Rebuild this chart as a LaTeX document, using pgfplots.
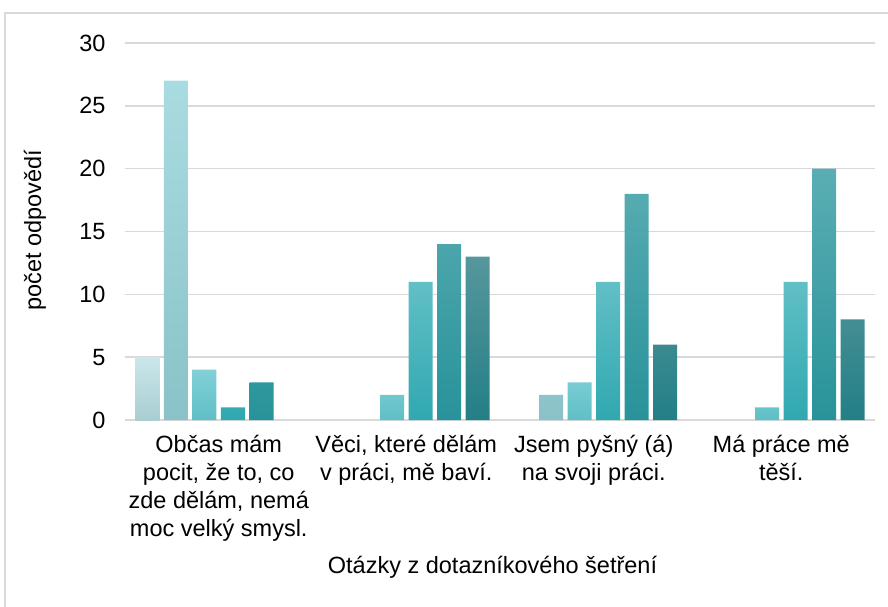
\documentclass[border=0pt]{standalone}
\usepackage{fontspec}
\setmainfont{Liberation Sans}
\usepackage{pgfplots}
\pgfplotsset{compat=1.18}
\definecolor{gridc}{HTML}{D9D9D9}
\definecolor{sAt}{HTML}{CBE7EB}\definecolor{sAb}{HTML}{A9CDD1}
\definecolor{sBt}{HTML}{A9DCE1}\definecolor{sBb}{HTML}{89C2C8}
\definecolor{sCt}{HTML}{82D0D6}\definecolor{sCb}{HTML}{5EC0C6}
\definecolor{sDt}{HTML}{62BFC6}\definecolor{sDm}{HTML}{3CB9C2}\definecolor{sDb}{HTML}{30A8B0}
\definecolor{sEt}{HTML}{5AAEB3}\definecolor{sEb}{HTML}{28929A}
\definecolor{sFt}{HTML}{56979C}\definecolor{sFb}{HTML}{237F86}
\begin{document}
\begin{tikzpicture}[x=1pt,y=1pt]
\useasboundingbox (-125,-186) rectangle (763,420);
\draw[gridc, line width=1.5pt] (-120,-190) -- (-120,407) -- (770,407);
\begin{axis}[
  at={(0,0)}, anchor=south west,
  scale only axis, width=750pt, height=377pt,
  xmin=-0.5, xmax=3.5, ymin=0, ymax=30,
  ybar=4.5pt, bar width=24pt,
  xtick={0,1,2,3},
  xticklabels={{Občas mám\\pocit, že to, co\\zde dělám, nemá\\moc velký smysl.},
               {Věci, které dělám\\v práci, mě baví.},
               {Jsem pyšný (á)\\na svoji práci.},
               {Má práce mě\\těší.}},
  ytick={0,5,...,30},
  ymajorgrids, grid style={gridc, line width=1.5pt},
  axis line style={draw=none},
  tick style={draw=none},
  /pgf/number format/assume math mode=true,
  tick label style={font=\fontsize{23.5}{28}\selectfont, text=black},
  xticklabel style={align=center, yshift=-7pt},
  yticklabel style={xshift=-16pt},
  xlabel={Otázky z dotazníkového šetření},
  ylabel={počet odpovědí},
  every axis x label/.style={at={(axis description cs:0.49,0)}, anchor=center, yshift=-147pt, font=\fontsize{23.5}{28}\selectfont},
  every axis y label/.style={at={(axis description cs:-0.12,0.504)}, anchor=center, rotate=90, font=\fontsize{23.5}{28}\selectfont},
  clip=false,
]
\addplot[draw=none, top color=sAt, bottom color=sAb] coordinates {(0,5)};
\addplot[draw=none, top color=sBt, bottom color=sBb] coordinates {(0,27) (2,2)};
\addplot[draw=none, top color=sCt, bottom color=sCb] coordinates {(0,4) (1,2) (2,3) (3,1)};
\addplot[draw=none, top color=sDt, middle color=sDm, bottom color=sDb] coordinates {(0,1) (1,11) (2,11) (3,11)};
\addplot[draw=none, top color=sEt, bottom color=sEb] coordinates {(0,3) (1,14) (2,18) (3,20)};
\addplot[draw=none, top color=sFt, bottom color=sFb] coordinates {(1,13) (2,6) (3,8)};
\end{axis}
\end{tikzpicture}
\end{document}
